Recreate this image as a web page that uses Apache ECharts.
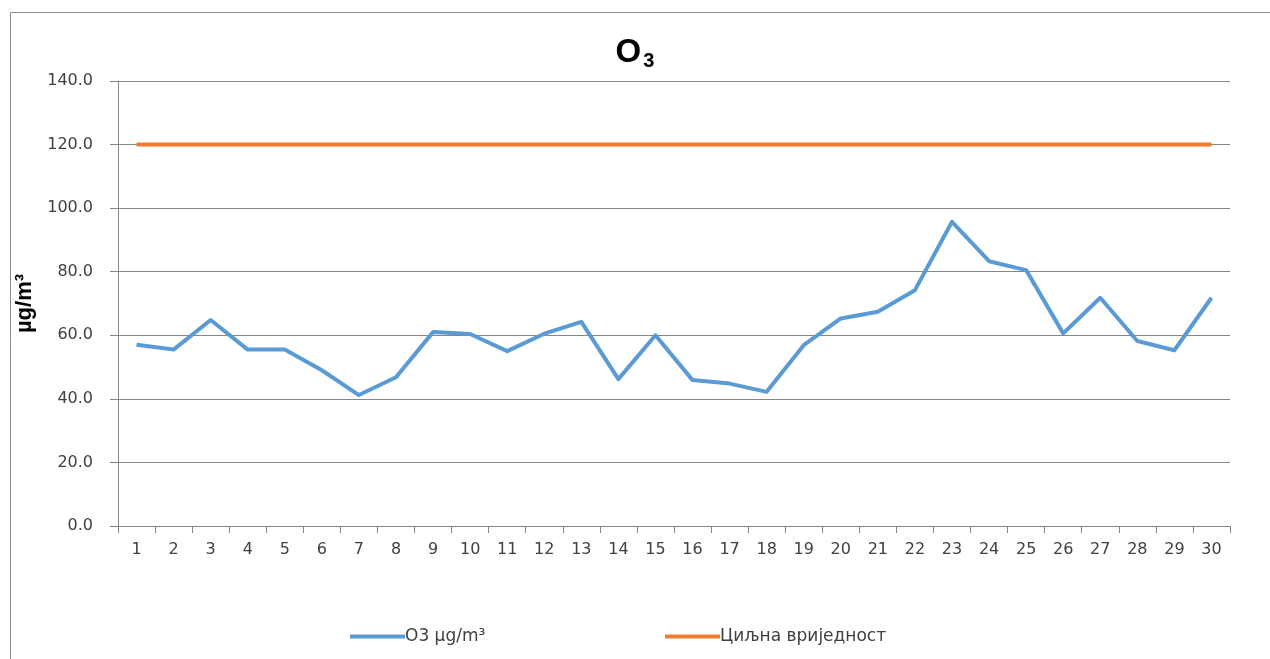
<!DOCTYPE html>
<html>
<head>
<meta charset="utf-8">
<script src="https://cdn.jsdelivr.net/npm/echarts@6/dist/echarts.min.js"></script>
<style>
  html, body { margin: 0; padding: 0; background: #fff; }
  #main { width: 1270px; height: 659px; }
</style>
</head>
<body>
<div id="main"></div>
<script>
// дани у мјесецу
var days = [];
for (var d = 1; d <= 30; d++) days.push(String(d));

// O3 µg/m³ – очитано са графика
var o3 = [57, 55.5, 64.8, 55.5, 55.5, 49, 41.2, 46.8, 61, 60.4,
          55, 60.5, 64.2, 46.2, 60, 45.9, 44.8, 42.2, 56.9, 65.3,
          67.4, 74.2, 95.7, 83.3, 80.5, 60.6, 71.8, 58.2, 55.3, 71.8];

// циљна вриједност
var target = [120, 120, 120, 120, 120, 120, 120, 120, 120, 120,
              120, 120, 120, 120, 120, 120, 120, 120, 120, 120,
              120, 120, 120, 120, 120, 120, 120, 120, 120, 120];

var yTicks = { min: 0, max: 140, interval: 20 };

var chart = echarts.init(document.getElementById('main'));

var txtColor = '#404040';
var lineGray = '#868686';
var font = 'DejaVu Sans, sans-serif';

var legendText = { fontFamily: font, fontSize: 17, color: txtColor, padding: [0, 0, 0, -5] };

chart.setOption({
  animation: false,
  backgroundColor: '#fff',
  graphic: [{
    type: 'rect',
    shape: { x: 10.5, y: 12.5, width: 1300, height: 700 },
    style: { fill: 'none', stroke: '#8c8c8c', lineWidth: 1 },
    silent: true
  }],
  title: {
    text: 'O{sub|3}',
    left: 'center',
    top: 30,
    textStyle: {
      fontFamily: 'Liberation Sans, Arial, sans-serif',
      fontSize: 33,
      fontWeight: 'bold',
      color: '#000',
      rich: {
        sub: {
          fontFamily: 'Liberation Sans, Arial, sans-serif',
          fontSize: 20,
          fontWeight: 'bold',
          color: '#000',
          verticalAlign: 'bottom',
          padding: [16, 0, 0, 2]
        }
      }
    }
  },
  legend: [{
    left: 345,
    bottom: 9,
    itemWidth: 55,
    itemHeight: 4,
    icon: 'rect',
    textStyle: legendText,
    data: ['O3 µg/m³']
  }, {
    left: 660,
    bottom: 9,
    itemWidth: 55,
    itemHeight: 4,
    icon: 'rect',
    textStyle: legendText,
    data: ['Циљна вриједност']
  }],
  grid: { left: 118, right: 40, top: 81, bottom: 133 },
  xAxis: {
    type: 'category',
    data: days,
    boundaryGap: true,
    axisLine: { lineStyle: { color: lineGray, width: 1 } },
    axisTick: { show: true, length: 7, inside: false, lineStyle: { color: lineGray } },
    axisLabel: { fontFamily: font, fontSize: 16, color: txtColor, margin: 16, interval: 0 },
    splitLine: { show: false }
  },
  yAxis: {
    type: 'value',
    min: yTicks.min,
    max: yTicks.max,
    interval: yTicks.interval,
    name: 'µg/m³',
    nameLocation: 'middle',
    nameGap: 77,
    nameRotate: 90,
    nameTextStyle: { fontFamily: 'Liberation Sans, Arial, sans-serif', fontSize: 22, fontWeight: 'bold', color: '#000' },
    axisLine: { show: true, lineStyle: { color: lineGray, width: 1 } },
    axisTick: { show: true, length: 8, lineStyle: { color: lineGray } },
    axisLabel: {
      fontFamily: font, fontSize: 16, color: txtColor, margin: 25,
      formatter: function (v) { return v.toFixed(1); }
    },
    splitLine: { show: true, lineStyle: { color: lineGray, width: 1 } }
  },
  series: [
    {
      name: 'O3 µg/m³',
      type: 'line',
      data: o3,
      color: '#5B9BD5',
      symbol: 'none',
      lineStyle: { width: 4, join: 'round' },
      z: 3
    },
    {
      name: 'Циљна вриједност',
      type: 'line',
      data: target,
      color: '#ED7D31',
      symbol: 'none',
      lineStyle: { width: 4 },
      z: 2
    }
  ]
});
</script>
</body>
</html>
